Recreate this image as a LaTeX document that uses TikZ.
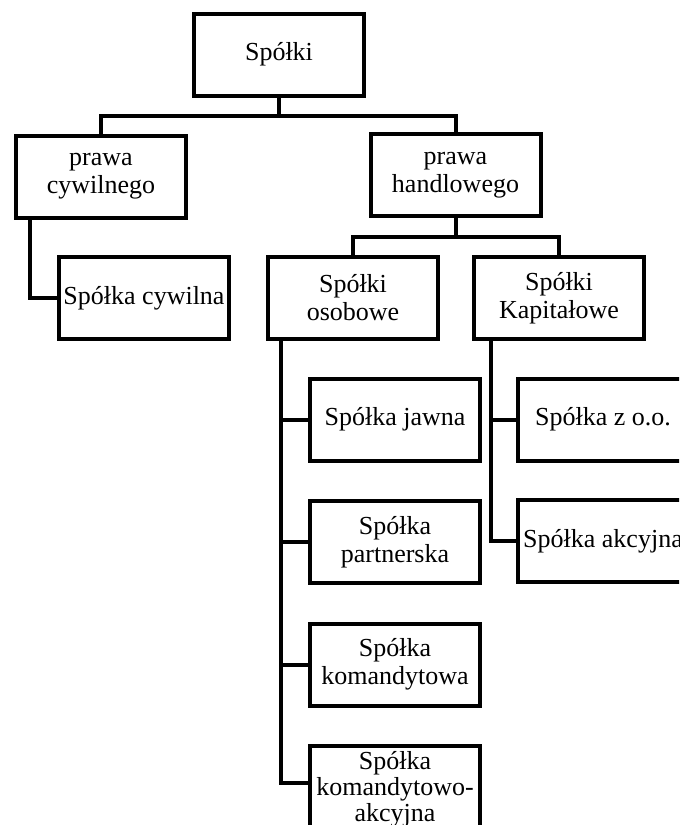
\documentclass[tikz,border=0pt]{standalone}
\usepackage{fontspec}
\setmainfont{Liberation Serif}
\usetikzlibrary{positioning}

\begin{document}
\begin{tikzpicture}[
  x=0.75pt, y=-0.75pt,
  font=\fontsize{19.5}{21}\selectfont,
  box/.style={rectangle, draw=black, line width=3pt, fill=white,
    minimum width=127.5pt, minimum height=61.5pt, inner sep=0pt, align=center},
  link/.style={line width=3pt, draw=black},
]

\path[use as bounding box, clip] (0,0) rectangle (679,825);
\fill[white] (0,0) rectangle (679,825);

\node[box] (spolki) at (279,54.5)  {Sp\'o\l{}ki};

\node[box] (cywil) at (101,176.5)  {prawa\\cywilnego};
\node[box] (handl) at (455.5,175)  {prawa\\handlowego};

\node[box] (scyw)  at (144,298)    {Sp\'o\l{}ka cywilna};
\node[box] (osob)  at (353,298)    {Sp\'o\l{}ki\\osobowe};
\node[box] (kapit) at (559,298)    {Sp\'o\l{}ki\\Kapita\l{}owe};

\node[box] (jawna)   at (395,419.5) {Sp\'o\l{}ka jawna};
\node[box] (partn)   at (395,542)   {Sp\'o\l{}ka\\partnerska};
\node[box] (komand)  at (395,664.5) {Sp\'o\l{}ka\\komandytowa};
\node[box, anchor=north, inner ysep=4pt, font=\fontsize{19.5}{19.5}\selectfont]
  (komakc) at (395,744) {Sp\'o\l{}ka\\komandytowo-\\akcyjna};

\node[box] (zoo)   at (603,419.5) {Sp\'o\l{}ka z o.o.};
\node[box] (akcyj) at (603,541)   {Sp\'o\l{}ka akcyjna};

\draw[link] (spolki.south) -- ++(0,18) -| (cywil.north);
\draw[link] (spolki.south) -- ++(0,18) -| (handl.north);
\draw[link] ([xshift=12pt]cywil.south west) |- (scyw.west);
\draw[link] (handl.south) -- ++(0,19) -| (osob.north);
\draw[link] (handl.south) -- ++(0,19) -| (kapit.north);
\draw[link] ([xshift=11.25pt]osob.south west) |- (jawna.west);
\draw[link] ([xshift=11.25pt]osob.south west) |- (partn.west);
\draw[link] ([xshift=11.25pt]osob.south west) |- (komand.west);
\draw[link] ([xshift=11.25pt]osob.south west) |- ([yshift=4.5pt]komakc.west);
\draw[link] ([xshift=14.25pt]kapit.south west) |- (zoo.west);
\draw[link] ([xshift=14.25pt]kapit.south west) |- (akcyj.west);
\end{tikzpicture}
\end{document}
